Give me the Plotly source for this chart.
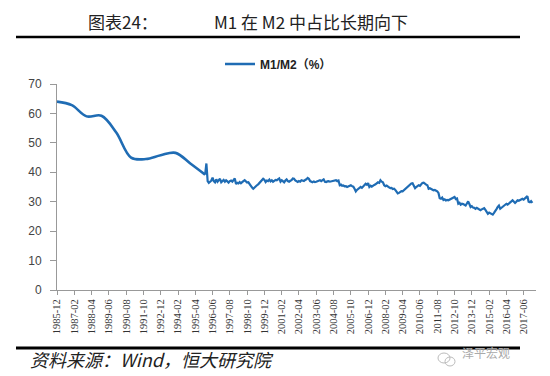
import plotly.graph_objects as go
import pandas as pd

# ---------------- data ----------------
annual_years = [1985, 1986, 1987, 1988, 1989, 1990, 1991, 1992, 1993, 1994, 1995]
annual_ratio = [64.0, 62.8, 59.0, 59.2, 53.5, 45.0, 44.5, 45.8, 46.6, 43.0, 39.2]

monthly_start = "1996-01-01"
ratio_1996 = [43.0, 37.0, 36.4, 36.8, 37.2, 38.2, 37.0, 36.6, 37.6, 36.8, 37.2, 37.8]
ratio_1997 = [36.6, 37.0, 37.4, 36.8, 37.3, 36.9, 36.5, 37.0, 37.2, 36.8, 37.4, 37.9]
ratio_1998 = [36.0, 36.4, 36.2, 36.7, 36.3, 36.8, 37.0, 37.3, 36.9, 36.5, 36.6, 35.9]
ratio_1999 = [35.2, 34.8, 34.4, 34.9, 35.3, 35.6, 35.9, 36.4, 36.9, 37.3, 37.8, 37.5]
ratio_2000 = [36.7, 37.2, 37.0, 37.5, 36.9, 37.3, 36.8, 37.1, 37.4, 37.3, 37.8, 37.9]
ratio_2001 = [36.8, 37.3, 37.0, 36.6, 37.2, 37.6, 37.0, 36.8, 37.1, 37.3, 37.9, 37.8]
ratio_2002 = [37.2, 36.9, 36.7, 37.0, 36.8, 37.3, 37.1, 37.0, 37.4, 37.6, 38.1, 37.8]
ratio_2003 = [37.0, 36.7, 36.6, 36.9, 36.7, 36.8, 36.9, 37.1, 37.3, 37.0, 37.2, 37.6]
ratio_2004 = [36.8, 36.7, 36.9, 37.0, 36.8, 36.9, 37.0, 37.1, 37.2, 37.3, 37.0, 37.2]
ratio_2005 = [35.6, 35.8, 35.4, 35.5, 35.2, 35.3, 35.0, 35.2, 35.4, 35.6, 35.3, 35.1]
ratio_2006 = [34.4, 33.5, 34.0, 34.4, 34.8, 35.0, 34.7, 35.3, 35.6, 36.1, 35.8, 36.3]
ratio_2007 = [35.0, 35.4, 35.1, 35.5, 35.7, 35.9, 36.2, 36.6, 36.4, 37.3, 36.8, 36.6]
ratio_2008 = [35.6, 35.3, 35.5, 35.0, 34.9, 34.6, 34.7, 34.3, 34.4, 34.0, 33.4, 32.8]
ratio_2009 = [33.0, 33.2, 33.6, 33.5, 33.9, 34.2, 34.8, 35.2, 35.6, 35.9, 36.2, 36.3]
ratio_2010 = [35.4, 34.6, 35.0, 35.3, 35.6, 35.4, 35.9, 36.4, 36.5, 36.0, 35.8, 35.6]
ratio_2011 = [34.4, 34.6, 34.3, 34.1, 33.9, 34.0, 33.8, 33.5, 33.0, 31.2, 31.0, 31.4]
ratio_2012 = [30.6, 30.8, 30.4, 30.6, 30.5, 30.7, 30.8, 31.0, 31.3, 31.6, 30.9, 31.1]
ratio_2013 = [29.3, 29.6, 29.0, 29.3, 29.2, 28.9, 28.7, 29.4, 30.1, 29.2, 28.2, 28.5]
ratio_2014 = [28.0, 27.9, 27.6, 27.9, 27.7, 27.5, 27.1, 27.4, 27.6, 27.8, 27.2, 26.6]
ratio_2015 = [25.9, 26.3, 26.0, 25.8, 25.6, 26.2, 26.7, 27.5, 28.2, 28.7, 27.6, 28.0]
ratio_2016 = [28.3, 28.6, 28.9, 29.3, 29.0, 29.5, 29.8, 30.1, 30.5, 30.0, 29.6, 30.0]
ratio_2017 = [30.5, 30.3, 30.6, 30.8, 31.0, 30.7, 31.2, 31.5, 31.9, 30.0, 29.8, 30.2]
ratio_2018 = [29.6]

tick_labels = ["1985-12", "1987-02", "1988-04", "1989-06", "1990-08", "1991-10",
               "1992-12", "1994-02", "1995-04", "1996-06", "1997-08", "1998-10",
               "1999-12", "2001-02", "2002-04", "2003-06", "2004-08", "2005-10",
               "2006-12", "2008-02", "2009-04", "2010-06", "2011-08", "2012-10",
               "2013-12", "2015-02", "2016-04", "2017-06"]

series_name = "M1/M2（%）"
title_left = "图表24："
title_right = "M1 在 M2 中占比长期向下"
source_text = "资料来源：Wind，恒大研究院"
watermark = "泽平宏观"

# ---------------- build ----------------
monthly_ratio = (ratio_1996 + ratio_1997 + ratio_1998 + ratio_1999 + ratio_2000 +
                 ratio_2001 + ratio_2002 + ratio_2003 + ratio_2004 + ratio_2005 +
                 ratio_2006 + ratio_2007 + ratio_2008 + ratio_2009 + ratio_2010 +
                 ratio_2011 + ratio_2012 + ratio_2013 + ratio_2014 + ratio_2015 +
                 ratio_2016 + ratio_2017 + ratio_2018)
monthly_dates = list(pd.date_range(monthly_start, periods=len(monthly_ratio), freq="MS"))
annual_dates = [pd.Timestamp(f"{y}-12-01") for y in annual_years]

W, H = 550, 376
L, R, T, B = 49, 22, 76, 94
PW, PH = W - L - R, H - T - B


def px_x(px):
    return (px - L) / PW


def px_y(py):
    return (H - B - py) / PH


line_color = "rgb(31,108,180)"

fig = go.Figure()
fig.add_trace(go.Scatter(
    x=annual_dates, y=annual_ratio, mode="lines", name=series_name,
    line=dict(color=line_color, width=2.6, shape="spline", smoothing=1.0),
    legendgroup="a", showlegend=True, hoverinfo="skip"))
fig.add_trace(go.Scatter(
    x=[annual_dates[-1]] + monthly_dates, y=[annual_ratio[-1]] + monthly_ratio,
    mode="lines", name=series_name,
    line=dict(color=line_color, width=2.2),
    legendgroup="a", showlegend=False, hoverinfo="skip"))

tick_vals = [pd.Timestamp(t + "-01") for t in tick_labels]

fig.update_layout(
    width=W, height=H,
    margin=dict(l=L, r=R, t=T, b=B, pad=0),
    paper_bgcolor="white", plot_bgcolor="white",
    showlegend=True,
    legend=dict(x=px_x(212), y=px_y(56), xanchor="left", yanchor="middle",
                orientation="h", bgcolor="rgba(0,0,0,0)",
                font=dict(family="Liberation Sans, Noto Sans CJK SC", size=12,
                          color="#222", weight="bold"),
                itemwidth=30, tracegroupgap=0),
    xaxis=dict(type="date",
               range=[pd.Timestamp("1985-12-01"), pd.Timestamp("2018-04-01")],
               tickmode="array", tickvals=tick_vals, ticktext=tick_labels,
               tickangle=-90, ticks="outside", ticklen=4, tickcolor="#999",
               showline=True, linecolor="#999", linewidth=1,
               showgrid=False, zeroline=False,
               tickfont=dict(family="Liberation Serif", size=10.5, color="#333")),
    yaxis=dict(range=[0, 70], tickmode="linear", tick0=0, dtick=10,
               ticks="outside", ticklen=6, tickcolor="#999",
               ticklabelstandoff=6,
               showline=True, linecolor="#999", linewidth=1,
               showgrid=False, zeroline=False,
               tickfont=dict(family="Liberation Sans", size=12, color="#444")),
    shapes=[
        dict(type="line", xref="paper", yref="paper",
             x0=px_x(8), x1=px_x(512), y0=px_y(29), y1=px_y(29),
             line=dict(color="black", width=2.5)),
        dict(type="line", xref="paper", yref="paper",
             x0=px_x(8), x1=px_x(512), y0=px_y(340), y1=px_y(340),
             line=dict(color="black", width=3)),
        dict(type="circle", xref="paper", yref="paper",
             x0=px_x(430), x1=px_x(442), y0=px_y(355), y1=px_y(345),
             line=dict(color="#bbb", width=1)),
        dict(type="circle", xref="paper", yref="paper",
             x0=px_x(437), x1=px_x(447), y0=px_y(358), y1=px_y(349),
             line=dict(color="#bbb", width=1)),
    ],
    annotations=[
        dict(text=title_left, xref="paper", yref="paper", x=px_x(79), y=px_y(0),
             xanchor="left", yanchor="top", showarrow=False, borderpad=0,
             font=dict(family="Noto Sans CJK SC", size=17, color="#222")),
        dict(text=title_right, xref="paper", yref="paper", x=px_x(205), y=px_y(0),
             xanchor="left", yanchor="top", showarrow=False, borderpad=0,
             font=dict(family="Noto Sans CJK SC", size=17, color="#222")),
        dict(text="<i>" + source_text + "</i>", xref="paper", yref="paper",
             x=px_x(20), y=px_y(351), xanchor="left", yanchor="middle",
             showarrow=False,
             font=dict(family="Noto Sans CJK SC", size=18, color="#222")),
        dict(text=watermark, xref="paper", yref="paper", x=px_x(452), y=px_y(344),
             xanchor="left", yanchor="middle", showarrow=False,
             font=dict(family="Noto Sans CJK SC", size=12, color="#aaa")),
    ],
)

fig.write_html("out.html")
